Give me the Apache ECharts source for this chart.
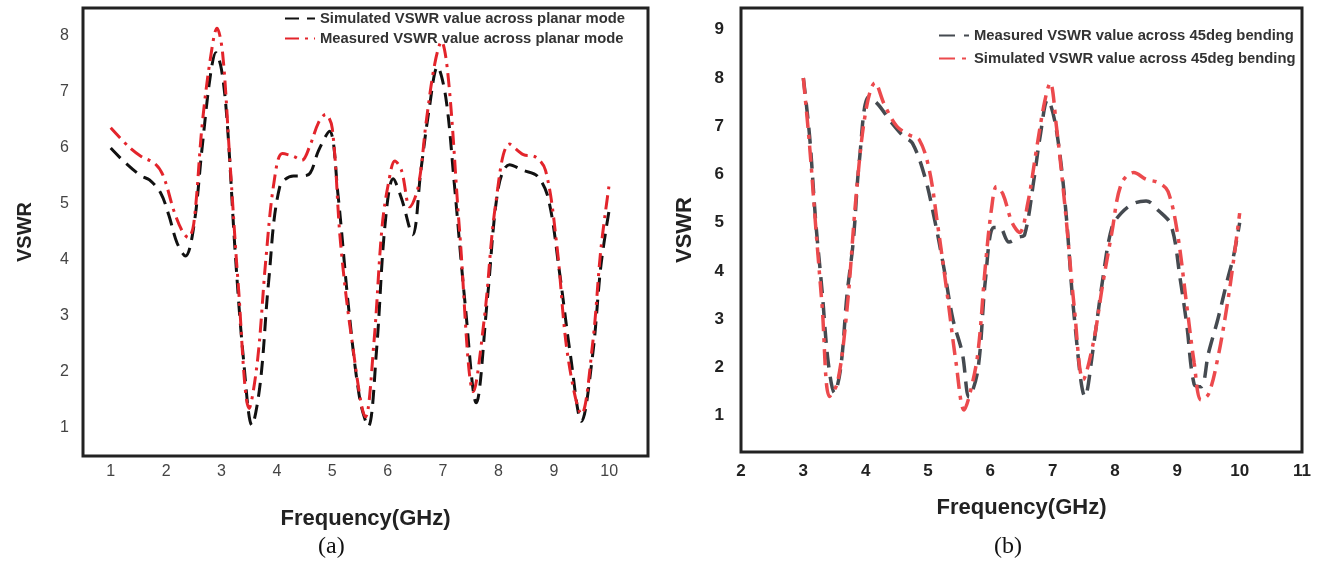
<!DOCTYPE html>
<html>
<head>
	<meta charset="utf-8" />
	<title>VSWR</title>
	<script src="https://cdn.jsdelivr.net/npm/echarts@6/dist/echarts.min.js"></script>
	<style>
		html, body {margin:0;padding:0;background:#fff;}
		#chart {width:1322px;height:571px;}
	</style>
</head>
<body>
	<div id="chart"></div>
	<script>
		// (a) planar mode
		var freqSimA = [1.0, 1.25, 1.55, 1.7, 1.9, 2.05, 2.2, 2.35, 2.5, 2.65, 2.8, 2.9, 3.0, 3.1, 3.25, 3.4, 3.55, 3.7, 3.85, 4.05, 4.3, 4.45, 4.6, 4.75, 4.95, 5.1, 5.3, 5.5, 5.65, 5.8, 5.95, 6.1, 6.25, 6.45, 6.6, 6.75, 6.9, 7.05, 7.2, 7.4, 7.6, 7.8, 8.0, 8.2, 8.45, 8.7, 8.9, 9.1, 9.3, 9.5, 9.7, 9.85, 10.0];
		var vswrSimA = [6.0, 5.75, 5.5, 5.43, 5.2, 4.8, 4.3, 4.07, 4.6, 6.0, 7.3, 7.7, 7.4, 6.5, 4.1, 2.2, 1.05, 1.8, 3.6, 5.3, 5.5, 5.5, 5.55, 5.95, 6.3, 5.2, 3.1, 1.5, 1.03, 2.4, 4.6, 5.45, 5.1, 4.45, 5.6, 6.7, 7.45, 6.9, 5.4, 3.2, 1.45, 3.3, 5.3, 5.7, 5.6, 5.5, 5.1, 3.8, 2.3, 1.12, 2.3, 3.9, 4.9];

		var freqMeasA = [1.0, 1.35, 1.55, 1.8, 1.95, 2.15, 2.3, 2.4, 2.5, 2.65, 2.8, 2.92, 3.02, 3.15, 3.3, 3.5, 3.65, 3.8, 3.95, 4.1, 4.3, 4.45, 4.6, 4.75, 4.88, 5.0, 5.15, 5.35, 5.6, 5.75, 5.9, 6.02, 6.13, 6.25, 6.4, 6.55, 6.7, 6.85, 6.97, 7.1, 7.3, 7.55, 7.75, 7.95, 8.2, 8.45, 8.65, 8.85, 9.05, 9.25, 9.5, 9.7, 9.85, 10.0];
		var vswrMeasA = [6.36, 6.0, 5.85, 5.72, 5.5, 4.85, 4.5, 4.4, 4.65, 6.4, 7.6, 8.14, 7.7, 5.8, 3.6, 1.35, 2.2, 4.0, 5.4, 5.9, 5.85, 5.78, 6.05, 6.45, 6.6, 6.35, 4.3, 2.6, 1.2, 2.5, 4.6, 5.4, 5.77, 5.6, 4.95, 5.3, 6.5, 7.5, 7.9, 7.2, 4.5, 1.65, 3.0, 5.0, 6.07, 5.88, 5.85, 5.6, 4.3, 2.3, 1.25, 2.5, 4.2, 5.35];

		// (b) 45deg bending
		var freqMeasB = [3.0, 3.1, 3.2, 3.3, 3.4, 3.5, 3.6, 3.7, 3.8, 3.9, 4.05, 4.2, 4.4, 4.6, 4.75, 4.95, 5.1, 5.25, 5.4, 5.55, 5.66, 5.8, 5.92, 6.05, 6.15, 6.3, 6.45, 6.55, 6.7, 6.8, 6.92, 7.05, 7.2, 7.35, 7.52, 7.65, 7.8, 7.95, 8.1, 8.3, 8.5, 8.7, 8.9, 9.05, 9.15, 9.27, 9.38, 9.5, 9.65, 9.8, 9.9, 10.0];
		var vswrMeasB = [8.0, 6.8, 5.0, 3.6, 2.1, 1.48, 2.0, 3.5, 4.6, 6.3, 7.61, 7.45, 7.1, 6.8, 6.65, 5.95, 5.1, 4.1, 3.0, 2.3, 1.39, 1.95, 3.8, 4.9, 4.9, 4.6, 4.7, 4.75, 5.9, 6.8, 7.55, 7.0, 5.4, 3.0, 1.4, 2.4, 3.8, 4.9, 5.2, 5.4, 5.45, 5.25, 4.95, 3.8, 2.9, 1.65, 1.6, 2.3, 3.0, 3.8, 4.3, 5.0];

		var freqSimB = [3.0, 3.1, 3.2, 3.3, 3.42, 3.55, 3.7, 3.85, 4.0, 4.15, 4.3, 4.5, 4.7, 4.86, 5.02, 5.15, 5.3, 5.45, 5.58, 5.68, 5.8, 5.92, 6.02, 6.1, 6.2, 6.35, 6.47, 6.6, 6.75, 6.87, 6.96, 7.06, 7.2, 7.35, 7.49, 7.65, 7.8, 7.95, 8.1, 8.3, 8.5, 8.7, 8.85, 9.0, 9.15, 9.27, 9.38, 9.5, 9.65, 9.8, 9.9, 10.0];
		var vswrSimB = [8.0, 6.6, 4.9, 3.3, 1.4, 1.7, 3.2, 5.6, 7.3, 7.9, 7.45, 7.0, 6.82, 6.72, 6.1, 5.0, 3.6, 2.1, 1.12, 1.5, 2.3, 4.1, 5.3, 5.75, 5.6, 5.0, 4.8, 5.4, 6.6, 7.5, 7.9, 7.0, 5.3, 3.2, 1.75, 2.5, 3.7, 4.8, 5.8, 6.04, 5.9, 5.83, 5.65, 4.8, 3.3, 2.1, 1.33, 1.45, 2.2, 3.3, 4.2, 5.2];

		var ticksXA = [1, 2, 3, 4, 5, 6, 7, 8, 9, 10];
		var ticksYA = [1, 2, 3, 4, 5, 6, 7, 8];
		var ticksYB = [1, 2, 3, 4, 5, 6, 7, 8, 9];

		var nameSimA  = 'Simulated VSWR value across planar mode';
		var nameMeasA = 'Measured VSWR value across planar mode';
		var nameMeasB = 'Measured VSWR value across 45deg bending';
		var nameSimB  = 'Simulated VSWR value across 45deg bending';

		function zip(xs, ys) {
			return xs.map((x, i) => [x, ys[i]]);
		}

		var chart = echarts.init(document.getElementById('chart'));

		var axisNameStyle = {fontFamily: 'Liberation Sans', fontWeight: 'bold', fontSize: 22, color: '#222'};

		var option = {
			backgroundColor: '#fff',
			animation: false,
			textStyle: {fontFamily: 'Liberation Sans'},
			grid: [
				{left: 83, top: 8, width: 565, height: 448, show: true, borderColor: '#222', borderWidth: 3, backgroundColor: 'transparent'},
				{left: 741, top: 8, width: 561, height: 444, show: true, borderColor: '#222', borderWidth: 3, backgroundColor: 'transparent'}
			],
			xAxis: [
				{
					gridIndex: 0, type: 'value', min: 0.5, max: 10.7,
					name: 'Frequency(GHz)', nameLocation: 'middle', nameGap: 52, nameTextStyle: axisNameStyle,
					axisLine: {show: false}, axisTick: {show: false}, splitLine: {show: false},
					axisLabel: {customValues: ticksXA, margin: 8, fontSize: 16, color: '#444'}
				},
				{
					gridIndex: 1, type: 'value', min: 2, max: 11, interval: 1,
					name: 'Frequency(GHz)', nameLocation: 'middle', nameGap: 45, nameTextStyle: axisNameStyle,
					axisLine: {show: false}, axisTick: {show: false}, splitLine: {show: false},
					axisLabel: {margin: 11, fontSize: 17, fontWeight: 'bold', color: '#222'}
				}
			],
			yAxis: [
				{
					gridIndex: 0, type: 'value', min: 0.5, max: 8.5,
					name: 'VSWR', nameLocation: 'middle', nameGap: 48, nameTextStyle: Object.assign({}, axisNameStyle, {fontSize: 20}),
					axisLine: {show: false}, axisTick: {show: false}, splitLine: {show: false},
					axisLabel: {customValues: ticksYA, margin: 14, fontSize: 16, color: '#444'}
				},
				{
					gridIndex: 1, type: 'value', min: 0.25, max: 9.45,
					name: 'VSWR', nameLocation: 'middle', nameGap: 45, nameTextStyle: axisNameStyle,
					axisLine: {show: false}, axisTick: {show: false}, splitLine: {show: false},
					axisLabel: {customValues: ticksYB, margin: 17, fontSize: 17, fontWeight: 'bold', color: '#222'}
				}
			],
			legend: [
				{
					data: [nameSimA, nameMeasA], orient: 'vertical', left: 279, top: 6,
					itemWidth: 30, itemHeight: 14, itemGap: 5,
					itemStyle: {opacity: 0},
					textStyle: {fontSize: 14.8, fontWeight: 'bold', color: '#333'}
				},
				{
					data: [nameMeasB, nameSimB], orient: 'vertical', left: 933, top: 23,
					itemWidth: 30, itemHeight: 14, itemGap: 8,
					itemStyle: {opacity: 0},
					textStyle: {fontSize: 14.8, fontWeight: 'bold', color: '#333'}
				}
			],
			graphic: [
				{type: 'text', left: 318, top: 535, style: {text: '(a)', font: '24px "Liberation Serif"', fill: '#111'}},
				{type: 'text', left: 994, top: 535, style: {text: '(b)', font: '24px "Liberation Serif"', fill: '#111'}}
			],
			series: [
				{
					name: nameSimA, type: 'line', xAxisIndex: 0, yAxisIndex: 0, smooth: 0.35, symbol: 'none',
					data: zip(freqSimA, vswrSimA),
					itemStyle: {color: '#111'},
					lineStyle: {color: '#111', width: 3, type: [14, 8]}
				},
				{
					name: nameMeasA, type: 'line', xAxisIndex: 0, yAxisIndex: 0, smooth: 0.35, symbol: 'none',
					data: zip(freqMeasA, vswrMeasA),
					itemStyle: {color: '#e3242b'},
					lineStyle: {color: '#e3242b', width: 3, type: [14, 6, 3, 6]}
				},
				{
					name: nameMeasB, type: 'line', xAxisIndex: 1, yAxisIndex: 1, smooth: 0.35, symbol: 'none',
					data: zip(freqMeasB, vswrMeasB),
					itemStyle: {color: '#454a50'},
					lineStyle: {color: '#454a50', width: 3.5, type: [16, 9]}
				},
				{
					name: nameSimB, type: 'line', xAxisIndex: 1, yAxisIndex: 1, smooth: 0.35, symbol: 'none',
					data: zip(freqSimB, vswrSimB),
					itemStyle: {color: '#ec4a4d'},
					lineStyle: {color: '#ec4a4d', width: 3.5, type: [16, 7, 4, 7]}
				}
			]
		};

		chart.setOption(option);
	</script>
</body>
</html>
